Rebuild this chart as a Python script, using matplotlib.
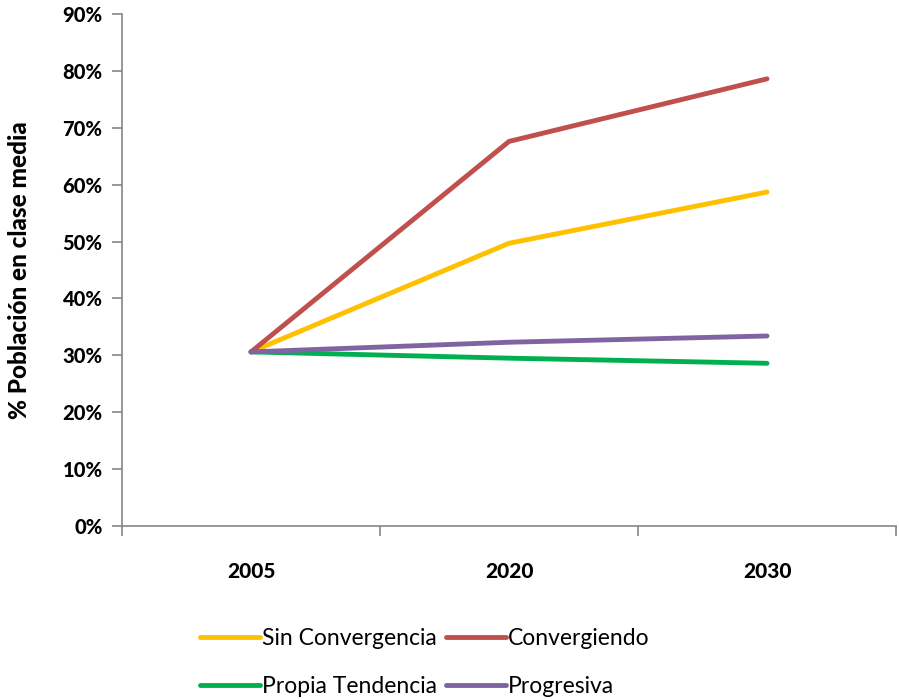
import matplotlib
matplotlib.use("Agg")
import matplotlib.pyplot as plt
from matplotlib.ticker import FixedLocator, PercentFormatter

plt.rcParams['font.family'] = ['Lato', 'DejaVu Sans']

years = ["2005", "2020", "2030"]
sin_convergencia = [30.6, 49.7, 58.7]
convergiendo = [30.6, 67.6, 78.6]
propia_tendencia = [30.6, 29.5, 28.6]
progresiva = [30.6, 32.3, 33.4]

series = [
    ("Sin Convergencia", sin_convergencia, "#FFC000"),
    ("Convergiendo", convergiendo, "#C0504D"),
    ("Propia Tendencia", propia_tendencia, "#00B050"),
    ("Progresiva", progresiva, "#8064A2"),
]

fig = plt.figure(figsize=(8.99, 6.99), dpi=100)
ax = fig.add_axes([0.1357, 0.2475, 0.861, 0.7325])

x = list(range(len(years)))
lines = {}
for name, vals, color in series:
    ln, = ax.plot(x, vals, color=color, lw=3.5, solid_capstyle='round',
                  solid_joinstyle='miter', label=name)
    lines[name] = ln

ax.set_xlim(-0.5, len(years) - 0.5)
ax.set_ylim(0, 90)
ax.yaxis.set_major_locator(FixedLocator(range(0, 91, 10)))
ax.yaxis.set_major_formatter(PercentFormatter(decimals=0))

# category labels centred, tick marks between categories
ax.xaxis.set_major_locator(FixedLocator([i - 0.5 for i in range(len(years) + 1)]))
ax.set_xticklabels([])
ax.set_xticks(x, minor=True)
ax.set_xticklabels(years, minor=True)
ax.tick_params(axis='x', which='major', length=7, width=1.2, color='#868686', direction='out')
ax.tick_params(axis='x', which='minor', length=0, pad=26, labelsize=15)
ax.tick_params(axis='y', length=7, width=1.2, color='#868686', direction='out', labelsize=14.5, pad=7)
for lab in ax.get_xticklabels(minor=True) + ax.get_yticklabels():
    lab.set_fontweight('black')

for side in ('top', 'right'):
    ax.spines[side].set_visible(False)
for side in ('left', 'bottom'):
    ax.spines[side].set_color('#868686')
    ax.spines[side].set_linewidth(1.2)

ax.set_ylabel("% Población en clase media", fontsize=17.5, fontweight='black')
ax.yaxis.set_label_coords(-0.118, 0.5)

order = ["Sin Convergencia", "Propia Tendencia", "Convergiendo", "Progresiva"]
fig.legend([lines[n] for n in order], order, ncol=2, frameon=False,
           loc='center', bbox_to_anchor=(0.473, 0.052), fontsize=16.5,
           handlelength=2.6, handletextpad=0.1, columnspacing=0.4,
           labelspacing=1.15)

fig.savefig("out.png", dpi=100)
